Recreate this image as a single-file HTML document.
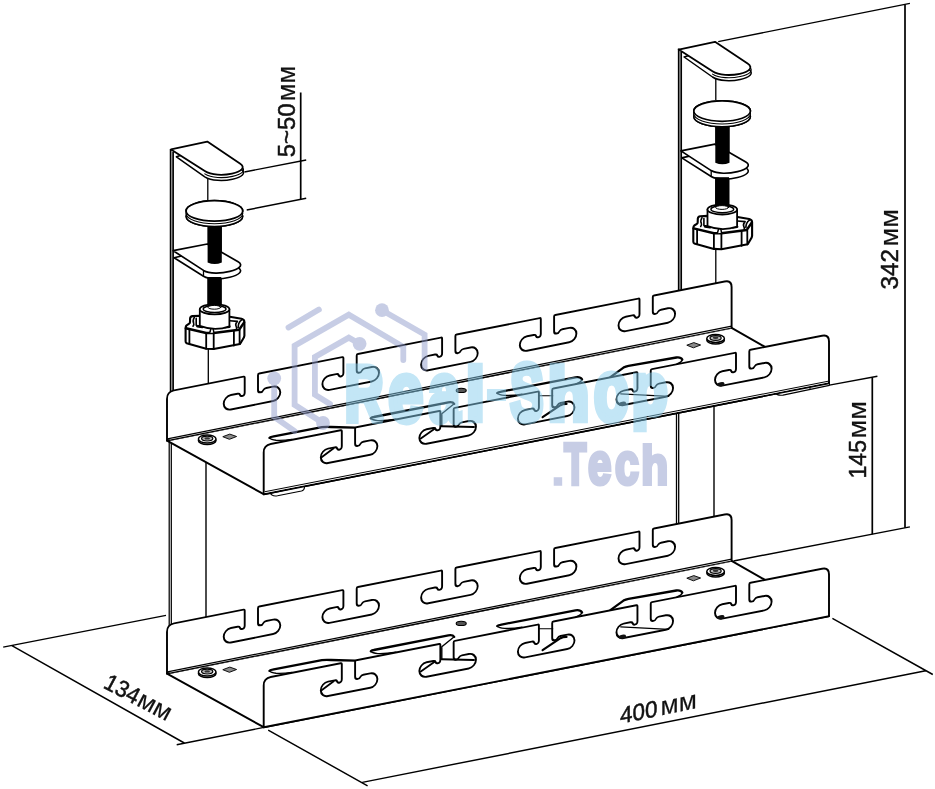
<!DOCTYPE html>
<html><head><meta charset="utf-8"><title>Cable tray dimensions</title>
<style>html,body{margin:0;padding:0;background:#fff;}svg{display:block;}text{font-family:"Liberation Sans",sans-serif;}</style>
</head><body>
<svg width="935" height="789" viewBox="0 0 935 789">
<rect width="935" height="789" fill="#fff"/>
<g stroke="#000" fill="none">
<path d="M170.6,149 L170.6,395 M173.1,152 L173.1,395" stroke-width="1.7"/>
<path d="M169.2,436 L169.2,673 M171.3,436 L171.3,673" stroke-width="1.25"/>
<path d="M207.8,176 L207.8,200 M208.3,349 L208.3,384" stroke-width="1.3"/>
<path d="M206,460 L206,620" stroke-width="1.4"/>
<path d="M678.7,48.6 L678.7,290 M681.2,52 L681.2,290" stroke-width="1.7"/>
<path d="M676.5,410 L676.5,525 M678.7,410 L678.7,525" stroke-width="1.3"/>
<path d="M715.8,76 L715.8,100 M715.8,249 L715.8,283" stroke-width="1.3"/>
<path d="M714,405 L714,520" stroke-width="1.4"/>
</g>
<g stroke="#000" fill="none" stroke-width="1.45">
<path d="M718.2,41.6 L909.9,3.4 M733.5,561 L909.9,526.9"/>
<path d="M905,4.4 L905,527.8 M872.3,377.2 L872.3,534.2 M300.7,92.5 L300.7,199.4" stroke-width="1.7"/>
<path d="M829.4,385.1 L877.4,376.3"/>
<path d="M244.4,172 L306.2,160 M246.7,210 L306.2,198.3"/>
<path d="M3.2,647.1 L166,615.4 M11.9,645.6 L184.3,743 M176.7,744.7 L263.9,727.4"/>
<path d="M268.2,730.2 L367.6,785.8 M362.3,782.4 L925.7,670.8 M832.4,618.4 L932.8,674.5"/>
</g>
<g transform="translate(0,233)"><g transform="matrix(1,-0.1996,0,1,167,440.6)">
<path d="M0,0 L0,-41.8 Q0,-48.8 7,-48.8 L76.5,-48.66 Q77.7,-48.66 77.7,-47.46 L77.7,-32.5 C77.7,-29.1 73.9,-28.7 72.9,-31.4 Q72.4,-32.8 70.5,-32.8 L63.9,-32.8 A7.2,7.2 0 0 0 63.9,-18.4 L106.1,-18.4 A7.2,7.2 0 0 0 106.1,-32.8 L99.2,-32.8 Q97.2,-32.8 96.4,-31.4 C95.2,-28.7 91,-29.1 91,-32.5 L91,-47.46 Q91,-48.66 92.2,-48.66 L175.2,-48.48 Q176.4,-48.48 176.4,-47.28 L176.4,-32.38 C176.4,-28.98 172.6,-28.58 171.6,-31.28 Q171.1,-32.68 169.2,-32.68 L162.6,-32.68 A7.2,7.2 0 0 0 162.6,-18.28 L204.8,-18.28 A7.2,7.2 0 0 0 204.8,-32.68 L197.9,-32.68 Q195.9,-32.68 195.1,-31.28 C193.9,-28.58 189.7,-28.98 189.7,-32.38 L189.7,-47.28 Q189.7,-48.48 190.9,-48.48 L273.9,-48.3 Q275.1,-48.3 275.1,-47.1 L275.1,-32.26 C275.1,-28.86 271.3,-28.46 270.3,-31.16 Q269.8,-32.56 267.9,-32.56 L261.3,-32.56 A7.2,7.2 0 0 0 261.3,-18.16 L303.5,-18.16 A7.2,7.2 0 0 0 303.5,-32.56 L296.6,-32.56 Q294.6,-32.56 293.8,-31.16 C292.6,-28.46 288.4,-28.86 288.4,-32.26 L288.4,-47.1 Q288.4,-48.3 289.6,-48.3 L372.6,-48.12 Q373.8,-48.12 373.8,-46.92 L373.8,-32.14 C373.8,-28.74 370,-28.34 369,-31.04 Q368.5,-32.44 366.6,-32.44 L360,-32.44 A7.2,7.2 0 0 0 360,-18.04 L402.2,-18.04 A7.2,7.2 0 0 0 402.2,-32.44 L395.3,-32.44 Q393.3,-32.44 392.5,-31.04 C391.3,-28.34 387.1,-28.74 387.1,-32.14 L387.1,-46.92 Q387.1,-48.12 388.3,-48.12 L471.3,-47.94 Q472.5,-47.94 472.5,-46.74 L472.5,-32.02 C472.5,-28.62 468.7,-28.22 467.7,-30.92 Q467.2,-32.32 465.3,-32.32 L458.7,-32.32 A7.2,7.2 0 0 0 458.7,-17.92 L500.9,-17.92 A7.2,7.2 0 0 0 500.9,-32.32 L494,-32.32 Q492,-32.32 491.2,-30.92 C490,-28.22 485.8,-28.62 485.8,-32.02 L485.8,-46.74 Q485.8,-47.94 487,-47.94 L557.6,-47.78 Q564.6,-47.78 564.6,-40.78 L564.6,0 Z" fill="#fff" stroke="#000" stroke-width="1.9" stroke-linejoin="round"/>
</g>
<path d="M167,440.6 L731.6,327.91 L829,383.18 L263.7,494.2 Z" fill="#fff" stroke="#000" stroke-width="1.9" stroke-linejoin="round"/>
<path d="M169.5,439.3 L730.6,327.31" stroke="#fff" stroke-width="3" fill="none"/>
<path d="M169,440.3 L731.6,328.01" stroke="#000" stroke-width="1.25" fill="none"/>
<path d="M167.5,438.9 L731.6,326.21" stroke="#000" stroke-width="1.25" fill="none"/>

<!-- screws and squares -->
<g id="screwL"><ellipse cx="207.2" cy="440.6" rx="8.8" ry="4" fill="#fff" stroke="#000" stroke-width="1.5"/><ellipse cx="207.2" cy="439" rx="8.8" ry="4" fill="#fff" stroke="#000" stroke-width="1.5"/><ellipse cx="207.2" cy="438.6" rx="5.6" ry="2.4" fill="#bbb" stroke="#000" stroke-width="1.2"/><ellipse cx="207.2" cy="438.4" rx="2.8" ry="1.2" fill="#333"/></g>
<path d="M222.8,436.7 L229.8,434.1 L236.6,436.5 L229.4,439.3 Z" fill="#8a8a8a" stroke="#111" stroke-width="1"/>
<g transform="translate(508.4,-100.6)"><ellipse cx="207.2" cy="440.6" rx="8.8" ry="4" fill="#fff" stroke="#000" stroke-width="1.5"/><ellipse cx="207.2" cy="439" rx="8.8" ry="4" fill="#fff" stroke="#000" stroke-width="1.5"/><ellipse cx="207.2" cy="438.6" rx="5.6" ry="2.4" fill="#bbb" stroke="#000" stroke-width="1.2"/><ellipse cx="207.2" cy="438.4" rx="2.8" ry="1.2" fill="#333"/></g>
<path d="M686.8,345.2 L693.8,342.6 L700.6,345 L693.4,347.8 Z" fill="#8a8a8a" stroke="#111" stroke-width="1"/>
<!-- center hole -->
<ellipse cx="461.2" cy="390.4" rx="5" ry="2.1" fill="#555" stroke="#000" stroke-width="1.1"/>
<!-- floor slots: near edges (thin) -->
<g fill="none" stroke="#000" stroke-width="1.4" stroke-linejoin="round" stroke-linecap="round">
<path d="M269.5,437.9 Q271,439.8 276,440.3 Q283,440.7 292,439.4"/>
<path d="M370.8,418.3 Q372.5,420.2 377.8,420.6 Q385,420.9 396,419.2"/>
<path d="M454.2,403.8 L441.8,413.8 L441.8,426"/>
<path d="M497.3,393.1 Q499,395 504.5,395.4 Q512,395.7 522,394.2"/>
<path d="M582,379.4 Q581.5,382 576,383.8"/>
<path d="M682.3,359.5 Q681.8,362.2 677,364"/>
</g>
<!-- far edges (thick) -->
<g fill="none" stroke="#000" stroke-width="2.3" stroke-linejoin="round" stroke-linecap="round">
<path d="M269.5,437.9 Q270,437 272.5,436.6 L321.9,427.2 Q325,426.7 331,427 L355,427.7"/>
<path d="M370.8,418.3 Q371.3,417.4 373.8,417 L448.4,402.3 Q452.8,401.6 454.2,403.8"/>
<path d="M497.3,393.1 Q497.8,392.2 500.3,391.8 L575.5,377.3 Q580.4,376.6 582,379.4"/>
<path d="M610.4,377.1 L623.5,367.6 Q625.6,366.3 628.5,365.8 L676.4,357.5 Q680.8,356.9 682.3,359.5"/>
</g>

<g transform="matrix(1,-0.1964,0,1,263.7,494.2)">
<path d="M0,0 L0,-41.8 Q0,-48.8 7,-48.8 L76.9,-48.8 Q78.1,-48.8 78.1,-47.6 L78.1,-32.6 C78.1,-29.2 74.3,-28.8 73.3,-31.5 Q72.8,-32.9 70.9,-32.9 L64.3,-32.9 A7.2,7.2 0 0 0 64.3,-18.5 L106.5,-18.5 A7.2,7.2 0 0 0 106.5,-32.9 L99.6,-32.9 Q97.6,-32.9 96.8,-31.5 C95.6,-28.8 91.4,-29.2 91.4,-32.6 L91.4,-47.6 Q91.4,-48.8 92.6,-48.8 L175.45,-48.8 Q176.65,-48.8 176.65,-47.6 L176.65,-32.6 C176.65,-29.2 172.85,-28.8 171.85,-31.5 Q171.35,-32.9 169.45,-32.9 L162.85,-32.9 A7.2,7.2 0 0 0 162.85,-18.5 L205.05,-18.5 A7.2,7.2 0 0 0 205.05,-32.9 L198.15,-32.9 Q196.15,-32.9 195.35,-31.5 C194.15,-28.8 189.95,-29.2 189.95,-32.6 L189.95,-47.6 Q189.95,-48.8 191.15,-48.8 L274,-48.8 Q275.2,-48.8 275.2,-47.6 L275.2,-32.6 C275.2,-29.2 271.4,-28.8 270.4,-31.5 Q269.9,-32.9 268,-32.9 L261.4,-32.9 A7.2,7.2 0 0 0 261.4,-18.5 L303.6,-18.5 A7.2,7.2 0 0 0 303.6,-32.9 L296.7,-32.9 Q294.7,-32.9 293.9,-31.5 C292.7,-28.8 288.5,-29.2 288.5,-32.6 L288.5,-47.6 Q288.5,-48.8 289.7,-48.8 L372.55,-48.8 Q373.75,-48.8 373.75,-47.6 L373.75,-32.6 C373.75,-29.2 369.95,-28.8 368.95,-31.5 Q368.45,-32.9 366.55,-32.9 L359.95,-32.9 A7.2,7.2 0 0 0 359.95,-18.5 L402.15,-18.5 A7.2,7.2 0 0 0 402.15,-32.9 L395.25,-32.9 Q393.25,-32.9 392.45,-31.5 C391.25,-28.8 387.05,-29.2 387.05,-32.6 L387.05,-47.6 Q387.05,-48.8 388.25,-48.8 L471.1,-48.8 Q472.3,-48.8 472.3,-47.6 L472.3,-32.6 C472.3,-29.2 468.5,-28.8 467.5,-31.5 Q467,-32.9 465.1,-32.9 L458.5,-32.9 A7.2,7.2 0 0 0 458.5,-18.5 L500.7,-18.5 A7.2,7.2 0 0 0 500.7,-32.9 L493.8,-32.9 Q491.8,-32.9 491,-31.5 C489.8,-28.8 485.6,-29.2 485.6,-32.6 L485.6,-47.6 Q485.6,-48.8 486.8,-48.8 L558.3,-48.8 Q565.3,-48.8 565.3,-41.8 L565.3,0 Z" fill="#fff" stroke="#000" stroke-width="1.9" stroke-linejoin="round"/>
</g>

<!-- things seen through front-wall slots -->
<g fill="none" stroke="#000" stroke-linecap="round">
<path d="M321.6,457.3 L333.7,448.3" stroke-width="1.8"/>
<path d="M420.8,438.6 L435,428.5" stroke-width="1.8"/>
<path d="M441.8,426.2 L474,426.9" stroke-width="2"/>
<path d="M539.5,395.7 L552.8,395.7" stroke-width="1.1"/>
<path d="M542.6,417.1 L560.5,405.2 Q563,403.8 566.5,403.9" stroke-width="2.2"/>
<path d="M620.7,393.8 L668.6,396.4" stroke-width="1.3"/>
</g>
<ellipse cx="622.4" cy="403.8" rx="3.8" ry="2" fill="#111" transform="rotate(-10 622 404)"/>
<ellipse cx="720.8" cy="384.2" rx="3.8" ry="2" fill="#111" transform="rotate(-10 720.6 384.4)"/>
</g>
<g transform="matrix(1,-0.1996,0,1,167,440.6)">
<path d="M0,0 L0,-41.8 Q0,-48.8 7,-48.8 L76.5,-48.66 Q77.7,-48.66 77.7,-47.46 L77.7,-32.5 C77.7,-29.1 73.9,-28.7 72.9,-31.4 Q72.4,-32.8 70.5,-32.8 L63.9,-32.8 A7.2,7.2 0 0 0 63.9,-18.4 L106.1,-18.4 A7.2,7.2 0 0 0 106.1,-32.8 L99.2,-32.8 Q97.2,-32.8 96.4,-31.4 C95.2,-28.7 91,-29.1 91,-32.5 L91,-47.46 Q91,-48.66 92.2,-48.66 L175.2,-48.48 Q176.4,-48.48 176.4,-47.28 L176.4,-32.38 C176.4,-28.98 172.6,-28.58 171.6,-31.28 Q171.1,-32.68 169.2,-32.68 L162.6,-32.68 A7.2,7.2 0 0 0 162.6,-18.28 L204.8,-18.28 A7.2,7.2 0 0 0 204.8,-32.68 L197.9,-32.68 Q195.9,-32.68 195.1,-31.28 C193.9,-28.58 189.7,-28.98 189.7,-32.38 L189.7,-47.28 Q189.7,-48.48 190.9,-48.48 L273.9,-48.3 Q275.1,-48.3 275.1,-47.1 L275.1,-32.26 C275.1,-28.86 271.3,-28.46 270.3,-31.16 Q269.8,-32.56 267.9,-32.56 L261.3,-32.56 A7.2,7.2 0 0 0 261.3,-18.16 L303.5,-18.16 A7.2,7.2 0 0 0 303.5,-32.56 L296.6,-32.56 Q294.6,-32.56 293.8,-31.16 C292.6,-28.46 288.4,-28.86 288.4,-32.26 L288.4,-47.1 Q288.4,-48.3 289.6,-48.3 L372.6,-48.12 Q373.8,-48.12 373.8,-46.92 L373.8,-32.14 C373.8,-28.74 370,-28.34 369,-31.04 Q368.5,-32.44 366.6,-32.44 L360,-32.44 A7.2,7.2 0 0 0 360,-18.04 L402.2,-18.04 A7.2,7.2 0 0 0 402.2,-32.44 L395.3,-32.44 Q393.3,-32.44 392.5,-31.04 C391.3,-28.34 387.1,-28.74 387.1,-32.14 L387.1,-46.92 Q387.1,-48.12 388.3,-48.12 L471.3,-47.94 Q472.5,-47.94 472.5,-46.74 L472.5,-32.02 C472.5,-28.62 468.7,-28.22 467.7,-30.92 Q467.2,-32.32 465.3,-32.32 L458.7,-32.32 A7.2,7.2 0 0 0 458.7,-17.92 L500.9,-17.92 A7.2,7.2 0 0 0 500.9,-32.32 L494,-32.32 Q492,-32.32 491.2,-30.92 C490,-28.22 485.8,-28.62 485.8,-32.02 L485.8,-46.74 Q485.8,-47.94 487,-47.94 L557.6,-47.78 Q564.6,-47.78 564.6,-40.78 L564.6,0 Z" fill="#fff" stroke="#000" stroke-width="1.9" stroke-linejoin="round"/>
</g>
<path d="M167,440.6 L731.6,327.91 L829,383.18 L263.7,494.2 Z" fill="#fff" stroke="#000" stroke-width="1.9" stroke-linejoin="round"/>
<path d="M169.5,439.3 L730.6,327.31" stroke="#fff" stroke-width="3" fill="none"/>
<path d="M169,440.3 L731.6,328.01" stroke="#000" stroke-width="1.25" fill="none"/>
<path d="M167.5,438.9 L731.6,326.21" stroke="#000" stroke-width="1.25" fill="none"/>

<!-- screws and squares -->
<g id="screwL"><ellipse cx="207.2" cy="440.6" rx="8.8" ry="4" fill="#fff" stroke="#000" stroke-width="1.5"/><ellipse cx="207.2" cy="439" rx="8.8" ry="4" fill="#fff" stroke="#000" stroke-width="1.5"/><ellipse cx="207.2" cy="438.6" rx="5.6" ry="2.4" fill="#bbb" stroke="#000" stroke-width="1.2"/><ellipse cx="207.2" cy="438.4" rx="2.8" ry="1.2" fill="#333"/></g>
<path d="M222.8,436.7 L229.8,434.1 L236.6,436.5 L229.4,439.3 Z" fill="#8a8a8a" stroke="#111" stroke-width="1"/>
<g transform="translate(508.4,-100.6)"><ellipse cx="207.2" cy="440.6" rx="8.8" ry="4" fill="#fff" stroke="#000" stroke-width="1.5"/><ellipse cx="207.2" cy="439" rx="8.8" ry="4" fill="#fff" stroke="#000" stroke-width="1.5"/><ellipse cx="207.2" cy="438.6" rx="5.6" ry="2.4" fill="#bbb" stroke="#000" stroke-width="1.2"/><ellipse cx="207.2" cy="438.4" rx="2.8" ry="1.2" fill="#333"/></g>
<path d="M686.8,345.2 L693.8,342.6 L700.6,345 L693.4,347.8 Z" fill="#8a8a8a" stroke="#111" stroke-width="1"/>
<!-- center hole -->
<ellipse cx="461.2" cy="390.4" rx="5" ry="2.1" fill="#555" stroke="#000" stroke-width="1.1"/>
<!-- floor slots: near edges (thin) -->
<g fill="none" stroke="#000" stroke-width="1.4" stroke-linejoin="round" stroke-linecap="round">
<path d="M269.5,437.9 Q271,439.8 276,440.3 Q283,440.7 292,439.4"/>
<path d="M370.8,418.3 Q372.5,420.2 377.8,420.6 Q385,420.9 396,419.2"/>
<path d="M454.2,403.8 L441.8,413.8 L441.8,426"/>
<path d="M497.3,393.1 Q499,395 504.5,395.4 Q512,395.7 522,394.2"/>
<path d="M582,379.4 Q581.5,382 576,383.8"/>
<path d="M682.3,359.5 Q681.8,362.2 677,364"/>
</g>
<!-- far edges (thick) -->
<g fill="none" stroke="#000" stroke-width="2.3" stroke-linejoin="round" stroke-linecap="round">
<path d="M269.5,437.9 Q270,437 272.5,436.6 L321.9,427.2 Q325,426.7 331,427 L355,427.7"/>
<path d="M370.8,418.3 Q371.3,417.4 373.8,417 L448.4,402.3 Q452.8,401.6 454.2,403.8"/>
<path d="M497.3,393.1 Q497.8,392.2 500.3,391.8 L575.5,377.3 Q580.4,376.6 582,379.4"/>
<path d="M610.4,377.1 L623.5,367.6 Q625.6,366.3 628.5,365.8 L676.4,357.5 Q680.8,356.9 682.3,359.5"/>
</g>

<path d="M270,493.4 L272,495 Q274,496.4 277.5,495.8 L301.5,491 Q304.3,490.2 304.4,487.8 L304.4,486 Z" fill="#fff" stroke="#000" stroke-width="1.1" stroke-linejoin="round"/>
<path d="M775,392.6 Q777.5,396 783,395.1 L829.4,385.4 L829.4,381 Z" fill="#fff" stroke="#000" stroke-width="1.1" stroke-linejoin="round"/>
<path d="M810,386.4 L810,389.2" stroke="#000" stroke-width="1" fill="none"/>
<g transform="matrix(1,-0.1964,0,1,263.7,494.2)">
<path d="M0,0 L0,-41.8 Q0,-48.8 7,-48.8 L76.9,-48.8 Q78.1,-48.8 78.1,-47.6 L78.1,-32.6 C78.1,-29.2 74.3,-28.8 73.3,-31.5 Q72.8,-32.9 70.9,-32.9 L64.3,-32.9 A7.2,7.2 0 0 0 64.3,-18.5 L106.5,-18.5 A7.2,7.2 0 0 0 106.5,-32.9 L99.6,-32.9 Q97.6,-32.9 96.8,-31.5 C95.6,-28.8 91.4,-29.2 91.4,-32.6 L91.4,-47.6 Q91.4,-48.8 92.6,-48.8 L175.45,-48.8 Q176.65,-48.8 176.65,-47.6 L176.65,-32.6 C176.65,-29.2 172.85,-28.8 171.85,-31.5 Q171.35,-32.9 169.45,-32.9 L162.85,-32.9 A7.2,7.2 0 0 0 162.85,-18.5 L205.05,-18.5 A7.2,7.2 0 0 0 205.05,-32.9 L198.15,-32.9 Q196.15,-32.9 195.35,-31.5 C194.15,-28.8 189.95,-29.2 189.95,-32.6 L189.95,-47.6 Q189.95,-48.8 191.15,-48.8 L274,-48.8 Q275.2,-48.8 275.2,-47.6 L275.2,-32.6 C275.2,-29.2 271.4,-28.8 270.4,-31.5 Q269.9,-32.9 268,-32.9 L261.4,-32.9 A7.2,7.2 0 0 0 261.4,-18.5 L303.6,-18.5 A7.2,7.2 0 0 0 303.6,-32.9 L296.7,-32.9 Q294.7,-32.9 293.9,-31.5 C292.7,-28.8 288.5,-29.2 288.5,-32.6 L288.5,-47.6 Q288.5,-48.8 289.7,-48.8 L372.55,-48.8 Q373.75,-48.8 373.75,-47.6 L373.75,-32.6 C373.75,-29.2 369.95,-28.8 368.95,-31.5 Q368.45,-32.9 366.55,-32.9 L359.95,-32.9 A7.2,7.2 0 0 0 359.95,-18.5 L402.15,-18.5 A7.2,7.2 0 0 0 402.15,-32.9 L395.25,-32.9 Q393.25,-32.9 392.45,-31.5 C391.25,-28.8 387.05,-29.2 387.05,-32.6 L387.05,-47.6 Q387.05,-48.8 388.25,-48.8 L471.1,-48.8 Q472.3,-48.8 472.3,-47.6 L472.3,-32.6 C472.3,-29.2 468.5,-28.8 467.5,-31.5 Q467,-32.9 465.1,-32.9 L458.5,-32.9 A7.2,7.2 0 0 0 458.5,-18.5 L500.7,-18.5 A7.2,7.2 0 0 0 500.7,-32.9 L493.8,-32.9 Q491.8,-32.9 491,-31.5 C489.8,-28.8 485.6,-29.2 485.6,-32.6 L485.6,-47.6 Q485.6,-48.8 486.8,-48.8 L558.3,-48.8 Q565.3,-48.8 565.3,-41.8 L565.3,0 Z" fill="#fff" stroke="#000" stroke-width="1.9" stroke-linejoin="round"/>
<path d="M1,-1.4 L564.3,-1.4" stroke="#fff" stroke-width="0.8" fill="none"/>
<path d="M1,-2.2 L564.3,-2.2" stroke="#000" stroke-width="1" fill="none"/>
</g>

<!-- things seen through front-wall slots -->
<g fill="none" stroke="#000" stroke-linecap="round">
<path d="M321.6,457.3 L333.7,448.3" stroke-width="1.8"/>
<path d="M420.8,438.6 L435,428.5" stroke-width="1.8"/>
<path d="M441.8,426.2 L474,426.9" stroke-width="2"/>
<path d="M539.5,395.7 L552.8,395.7" stroke-width="1.1"/>
<path d="M542.6,417.1 L560.5,405.2 Q563,403.8 566.5,403.9" stroke-width="2.2"/>
<path d="M620.7,393.8 L668.6,396.4" stroke-width="1.3"/>
</g>
<ellipse cx="622.4" cy="403.8" rx="3.8" ry="2" fill="#111" transform="rotate(-10 622 404)"/>
<ellipse cx="720.8" cy="384.2" rx="3.8" ry="2" fill="#111" transform="rotate(-10 720.6 384.4)"/>


<g id="clamp" stroke="#000" stroke-linejoin="round" stroke-linecap="round">
 <!-- bolt -->
 <rect x="207.6" y="222" width="14.2" height="86" fill="#000" stroke="none"/>
 <!-- top plate -->
 <path d="M176.4,156.8 L204.8,176.8 C217.7,185.3 253.7,177.5 240.8,169 L207.4,147 Z" fill="#fff" stroke-width="1.5"/>
 <path d="M204.8,173.9 C217.7,182.4 253.7,174.6 240.8,166.1" fill="none" stroke-width="1.1"/>
 <path d="M171,149.4 L207.3,141.6 L239.9,163.4 C252.8,171.9 217.7,179.6 204.8,171.1 Z" fill="#fff" stroke-width="1.8"/>
 <!-- disc -->
 <ellipse cx="214.4" cy="216.3" rx="28.3" ry="10.2" fill="#fff" stroke-width="1.5"/>
 <ellipse cx="214.4" cy="213.6" rx="28.3" ry="10.2" fill="#fff" stroke-width="1.1"/>
 <ellipse cx="214.4" cy="210.9" rx="28.3" ry="10.2" fill="#fff" stroke-width="1.7"/>
 <!-- lower arm -->
 <path d="M174.1,257.7 L203.5,276.3 C215.5,283.4 250.1,274.8 238.1,267.7 L207.3,249.9 Z" fill="#fff" stroke-width="1.6"/>
 <path d="M173.2,250.7 L207.3,244 L238.1,261.8 C250.1,268.9 215.5,277.5 203.5,270.4 Z" fill="#fff" stroke-width="1.7"/>
 <path d="M203.5,270.4 L203.5,276.3" fill="none" stroke-width="1.3"/>
 <!-- bolt through arm (upper part, ends inside arm) -->
 <path d="M207.6,222 L207.6,262.6 Q214.7,265.6 221.8,262.6 L221.8,222 Z" fill="#000" stroke="none"/>
 <!-- disc again over bolt top -->
 <ellipse cx="214.4" cy="216.3" rx="28.3" ry="10.2" fill="#fff" stroke-width="1.5"/>
 <ellipse cx="214.4" cy="213.6" rx="28.3" ry="10.2" fill="#fff" stroke-width="1.1"/>
 <ellipse cx="214.4" cy="210.9" rx="28.3" ry="10.2" fill="#fff" stroke-width="1.7"/>
 <!-- knob body -->
 <path d="M185.6,328 Q185.7,326 186.6,325.3 L189.2,323.7 Q190,323.2 190,322 L190.1,318.4 Q190.3,316.3 192.6,316.1 L199.8,315.7 L229.8,316.8 L241.5,318.8 Q244.4,319.6 244.4,322 L244.4,335.6 Q244.2,337.2 243,339 L240,344 L213.7,349 L206.2,348.7 L186.6,343.2 Q185.6,342.6 185.6,341.2 Z" fill="#fff" stroke-width="2.1"/>
 <path d="M185.9,328.2 L206.2,333 L213.7,333 L239.1,329.7 L244,322.6" fill="none" stroke-width="2.5"/>
 <path d="M194.3,317.4 Q192.4,320.6 193.6,323 Q194.3,324.6 193,326.2 M196.2,318.4 L196.2,325.3 L200,326.4 M229.8,320.8 L237.4,321.4 Q235,324 236,326 Q236.8,327.6 236.6,329.2 M242.4,319.4 Q239.6,321 238.8,323.6 Q238.2,325.6 238.2,327.4" fill="none" stroke-width="1.6"/>
 <path d="M189.4,329.4 L189.4,343.6 M206.2,333 L206.2,348.7 M213.7,333 L213.7,349 M233.9,331 L233.9,345.6 M239.6,329.8 L239.6,344.2" fill="none" stroke-width="1.8"/>
 <path d="M209.7,333 L211,328.2 L213,328.2 L213.9,332.6" fill="#fff" stroke-width="1.5"/>
 <path d="M197.4,326.2 L202.4,327 M225,327.2 L229.4,326.6" fill="none" stroke-width="2.6"/>
 <!-- collar -->
 <path d="M199.8,309.2 L199.8,325.9 Q214.6,331.6 229.4,326.3 L229.4,309.2 Z" fill="#fff" stroke-width="1.8"/>
 <ellipse cx="214.6" cy="309.2" rx="14.8" ry="5.1" fill="#fff" stroke-width="1.8"/>
 <ellipse cx="214.6" cy="309" rx="11.4" ry="3.5" fill="#fff" stroke-width="1.4"/>
 <rect x="207.4" y="277" width="13.9" height="29.6" fill="#000" stroke="none"/>
 <ellipse cx="214.4" cy="307.3" rx="6.4" ry="1.9" fill="#fff" stroke-width="1"/>
</g>
<use href="#clamp" transform="translate(507.7,-99.8)"/>

<g fill="#111" stroke="#111" stroke-width="0.5" font-family="Liberation Sans, sans-serif" opacity="0.995">
 <text transform="translate(897.8,289.6) rotate(-90)" font-size="23.3" textLength="40.5" lengthAdjust="spacingAndGlyphs">342</text>
 <text transform="translate(897.8,246.4) rotate(-90)" font-size="26.2" stroke-width="0.15" textLength="37.5" lengthAdjust="spacingAndGlyphs">мм</text>
 <text transform="translate(865.7,478.4) rotate(-90)" font-size="23.3" textLength="38.3" lengthAdjust="spacingAndGlyphs">145</text>
 <text transform="translate(865.7,438.6) rotate(-90)" font-size="26.2" stroke-width="0.15" textLength="37.5" lengthAdjust="spacingAndGlyphs">мм</text>
 <text transform="translate(295.4,157.3) rotate(-90)" font-size="23.3" textLength="54" lengthAdjust="spacingAndGlyphs">5~50</text>
 <text transform="translate(295.4,101.2) rotate(-90)" font-size="25.5" stroke-width="0.15" textLength="35.6" lengthAdjust="spacingAndGlyphs">мм</text>
 <text transform="translate(102.3,687.3) rotate(28)" font-size="23.3" textLength="37" lengthAdjust="spacingAndGlyphs">134</text>
 <text transform="translate(135.4,705) rotate(28)" font-size="25.4" stroke-width="0.15" textLength="35.6" lengthAdjust="spacingAndGlyphs">мм</text>
 <text transform="matrix(1,-0.2,0,1,620,723.8)" font-size="23.3" textLength="37.5" lengthAdjust="spacingAndGlyphs">400</text>
 <text transform="matrix(1,-0.2,0,1,660.6,715.4)" font-size="26.2" stroke-width="0.15" textLength="36.2" lengthAdjust="spacingAndGlyphs">мм</text>
</g>
<g opacity="0.5">
<g stroke="#8f9bcb" stroke-width="5.8" fill="none" stroke-linecap="round" stroke-linejoin="miter">
<path d="M288.5,327.5 L318.9,309.6"/>
<path d="M323,423 L294.6,404.8 L294.6,345.8 L348.8,314.7 L403.3,346.8 L403.3,360"/>
<path d="M382,310.2 L424.6,334.6 L424.6,368"/>
<path d="M330,404 L314.9,394.6 L314.9,357 L348.8,337.7 L359.6,343.8"/>
<path d="M274.2,378.3 L274.2,417 L294.6,431.2"/>
</g>
<g fill="#8f9bcb"><circle cx="382" cy="310.2" r="6.9"/><circle cx="359.6" cy="343.8" r="6.9"/><circle cx="274.2" cy="378.3" r="6.9"/><circle cx="323" cy="423" r="6.9"/></g>
<text transform="matrix(0.53,0,0,0.78,344.89,420.2)" font-size="100" font-weight="bold" fill="#86ccec" stroke="#86ccec" stroke-width="6" stroke-linejoin="miter" stroke-miterlimit="2" style="vector-effect:non-scaling-stroke" vector-effect="non-scaling-stroke">R</text>
<text transform="matrix(0.62,0,0,0.84,388.53,420.66)" font-size="100" font-weight="bold" fill="#86ccec" stroke="#86ccec" stroke-width="6" stroke-linejoin="miter" stroke-miterlimit="2" style="vector-effect:non-scaling-stroke" vector-effect="non-scaling-stroke">e</text>
<text transform="matrix(0.56,0,0,0.84,428.72,420.66)" font-size="100" font-weight="bold" fill="#86ccec" stroke="#86ccec" stroke-width="6" stroke-linejoin="miter" stroke-miterlimit="2" style="vector-effect:non-scaling-stroke" vector-effect="non-scaling-stroke">a</text>
<text transform="matrix(0.67,0,0,0.75,466.1,420.2)" font-size="100" font-weight="bold" fill="#86ccec" stroke="#86ccec" stroke-width="6" stroke-linejoin="miter" stroke-miterlimit="2" style="vector-effect:non-scaling-stroke" vector-effect="non-scaling-stroke">l</text>
<text transform="matrix(0.51,0,0,0.5,487.97,407.5)" font-size="100" font-weight="bold" fill="#86ccec" stroke="#86ccec" stroke-width="6" stroke-linejoin="miter" stroke-miterlimit="2" style="vector-effect:non-scaling-stroke" vector-effect="non-scaling-stroke">-</text>
<text transform="matrix(0.49,0,0,0.79,510.43,420.41)" font-size="100" font-weight="bold" fill="#86ccec" stroke="#86ccec" stroke-width="6" stroke-linejoin="miter" stroke-miterlimit="2" style="vector-effect:non-scaling-stroke" vector-effect="non-scaling-stroke">S</text>
<text transform="matrix(0.68,0,0,0.75,547.76,420.2)" font-size="100" font-weight="bold" fill="#86ccec" stroke="#86ccec" stroke-width="6" stroke-linejoin="miter" stroke-miterlimit="2" style="vector-effect:non-scaling-stroke" vector-effect="non-scaling-stroke">h</text>
<text transform="matrix(0.57,0,0,0.85,594.11,420.45)" font-size="100" font-weight="bold" fill="#86ccec" stroke="#86ccec" stroke-width="6" stroke-linejoin="miter" stroke-miterlimit="2" style="vector-effect:non-scaling-stroke" vector-effect="non-scaling-stroke">o</text>
<text transform="matrix(0.58,0,0,0.73,631.91,414.08)" font-size="100" font-weight="bold" fill="#86ccec" stroke="#86ccec" stroke-width="6" stroke-linejoin="miter" stroke-miterlimit="2" style="vector-effect:non-scaling-stroke" vector-effect="non-scaling-stroke">p</text>
<text transform="matrix(0.34,0,0,0.33,553.2,483.6)" font-size="100" font-weight="bold" fill="#8f9bcb" stroke="#8f9bcb" stroke-width="3.6" stroke-linejoin="miter" stroke-miterlimit="2" style="vector-effect:non-scaling-stroke" vector-effect="non-scaling-stroke">.</text>
<text transform="matrix(0.36,0,0,0.57,564.24,483.6)" font-size="100" font-weight="bold" fill="#8f9bcb" stroke="#8f9bcb" stroke-width="3.6" stroke-linejoin="miter" stroke-miterlimit="2" style="vector-effect:non-scaling-stroke" vector-effect="non-scaling-stroke">T</text>
<text transform="matrix(0.42,0,0,0.59,588,483.51)" font-size="100" font-weight="bold" fill="#8f9bcb" stroke="#8f9bcb" stroke-width="3.6" stroke-linejoin="miter" stroke-miterlimit="2" style="vector-effect:non-scaling-stroke" vector-effect="non-scaling-stroke">e</text>
<text transform="matrix(0.43,0,0,0.59,614.98,483.51)" font-size="100" font-weight="bold" fill="#8f9bcb" stroke="#8f9bcb" stroke-width="3.6" stroke-linejoin="miter" stroke-miterlimit="2" style="vector-effect:non-scaling-stroke" vector-effect="non-scaling-stroke">c</text>
<text transform="matrix(0.44,0,0,0.53,641.22,483.6)" font-size="100" font-weight="bold" fill="#8f9bcb" stroke="#8f9bcb" stroke-width="3.6" stroke-linejoin="miter" stroke-miterlimit="2" style="vector-effect:non-scaling-stroke" vector-effect="non-scaling-stroke">h</text>
</g>
</svg>
</body></html>
